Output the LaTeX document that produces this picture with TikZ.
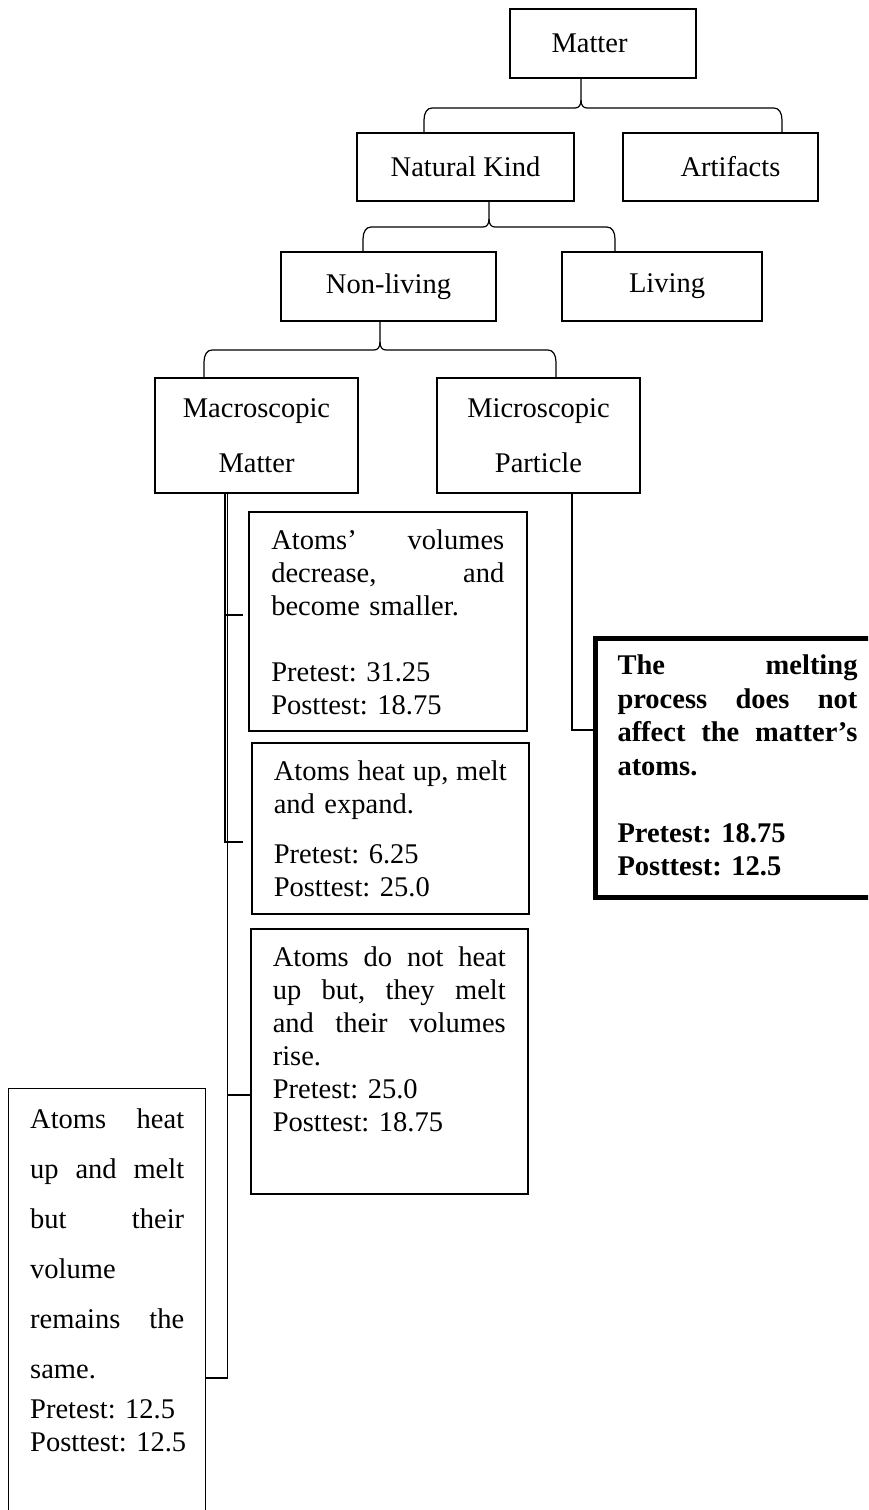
\documentclass[tikz,border=0pt]{standalone}
\usepackage{fontspec}
\setmainfont{Liberation Serif}
\usetikzlibrary{calc}

% curly brace from the stem under #1 to the two legs above #5 and #6
% #2 = cusp point, #3 = left corner, #4 = right corner
\newcommand\drawbrace[6]{%
  \draw[conn] (#5.north -| #3) -- ([yshift=-12pt]#3)
    .. controls ([yshift=-5pt]#3) and ([xshift=3pt]#3) .. ([xshift=8pt]#3)
    -- ([xshift=-6pt]#2)
    .. controls ([xshift=-2pt]#2) and ([yshift=3pt]#2) .. ([yshift=8pt]#2)
    -- (#1.south -| #2);
  \draw[conn] ([yshift=8pt]#2)
    .. controls ([yshift=3pt]#2) and ([xshift=2pt]#2) .. ([xshift=6pt]#2)
    -- ([xshift=-8pt]#4)
    .. controls ([xshift=-3pt]#4) and ([yshift=-5pt]#4) .. ([yshift=-12pt]#4)
    -- (#6.north -| #4);
}

\begin{document}
\frenchspacing
\begin{tikzpicture}[x=1pt,y=-1pt,
  every node/.style={font=\fontsize{28.5}{33}\selectfont},
  small/.style={draw, line width=1.8pt, inner sep=0pt, align=center},
  para/.style={draw, line width=1.6pt, anchor=north west, inner ysep=0pt, align=left},
  conn/.style={line width=1.2pt}]

\useasboundingbox (0,0) rectangle (868,1510);
\clip (0,0) rectangle (868,1510);

% hierarchy boxes
\node[small, minimum width=186pt, minimum height=69pt] (matter) at (603,43.5) {\hspace*{-27pt}Matter};
\node[small, minimum width=217pt, minimum height=68pt] (nk) at (465.5,167) {Natural Kind};
\node[small, minimum width=195pt, minimum height=68pt] (art) at (720.5,167) {\hspace*{20pt}Artifacts};
\node[small, minimum width=215pt, minimum height=69pt] (nl) at (388.5,286.5) {Non-living};
\node[small, minimum width=200pt, minimum height=69pt] (liv) at (662,286.5) {\hspace*{10pt}Living};
\node[small, minimum width=203pt, minimum height=115pt] (macro) at (256.5,435.5) {Macroscopic\\[22pt] Matter};
\node[small, minimum width=203pt, minimum height=115pt] (micro) at (538.5,435.5) {Microscopic\\[22pt] Particle};

% answer boxes
\node[para, inner xsep=22.5pt, text width=233pt, text height=38pt, text depth=181pt] (b1) at (248,511)
  {Atoms’\hfill volumes\\ decrease,\hfill and\\ become smaller.\\[33pt] Pretest: 31.25\\ Posttest: 18.75};
\node[para, inner xsep=22pt, text width=233pt, text height=38pt, text depth=133pt] (b2) at (251,742)
  {Atoms\hfill heat\hfill up,\hfill melt\\ and expand.\\[17pt] Pretest: 6.25\\ Posttest: 25.0};
\node[para, inner xsep=22pt, text width=233pt, text height=38pt, text depth=227pt] (b3) at (250,928)
  {Atoms\hfill do\hfill not\hfill heat\\ up\hfill but,\hfill they\hfill melt\\ and\hfill their\hfill volumes\\ rise.\\ Pretest: 25.0\\ Posttest: 18.75};
\node[para, line width=1.4pt, inner xsep=21.5pt, text width=154pt, text height=40pt, text depth=500pt] (b4) at (8,1088)
  {Atoms\hfill heat\\[17pt] up\hfill and\hfill melt\\[17pt] but\hfill their\\[17pt] volume\\[17pt] remains\hfill the\\[17pt] same.\\[7pt] Pretest:~12.5\\ \mbox{Posttest:~12.5}};
\node[para, line width=5pt, inner xsep=22.5pt, text width=240pt, text height=36pt, text depth=222.5pt,
      font=\fontsize{28.5}{33.5}\selectfont\bfseries] (bold) at (592.5,636)
  {The\hfill melting\\ process\hfill does\hfill not\\ affect\hfill the\hfill matter’s\\ atoms.\\[33.5pt] Pretest: 18.75\\ Posttest: 12.5};

% brace corners and cusps
\coordinate (c1) at (581,108); \coordinate (l1) at (424,108); \coordinate (r1) at (782,108);
\coordinate (c2) at (489,227); \coordinate (l2) at (363,227); \coordinate (r2) at (615,227);
\coordinate (c3) at (380,350); \coordinate (l3) at (204,350); \coordinate (r3) at (556,350);
\drawbrace{matter}{c1}{l1}{r1}{nk}{art}
\drawbrace{nk}{c2}{l2}{r2}{nl}{liv}
\drawbrace{nl}{c3}{l3}{r3}{macro}{micro}

% macroscopic branch
\coordinate (sa) at (225,0); \coordinate (sb) at (227.2,0);
\coordinate (t1) at (243,615); \coordinate (t2) at (243,842);
\coordinate (t3) at (0,1095);  \coordinate (t4) at (0,1378);
\draw[conn] (macro.south -| sa) -- (sa |- t2) -- (t2);
\draw[conn] (sa |- t1) -- (t1);
\draw[conn] (macro.south -| sb) -- (sb |- t4) -- (b4.east |- t4);
\draw[conn] (sb |- t3) -- (b3.west |- t3);

% microscopic branch
\coordinate (mk) at (572,730);
\draw[conn] (micro.south -| mk) |- (bold.west |- mk);
\end{tikzpicture}
\end{document}
